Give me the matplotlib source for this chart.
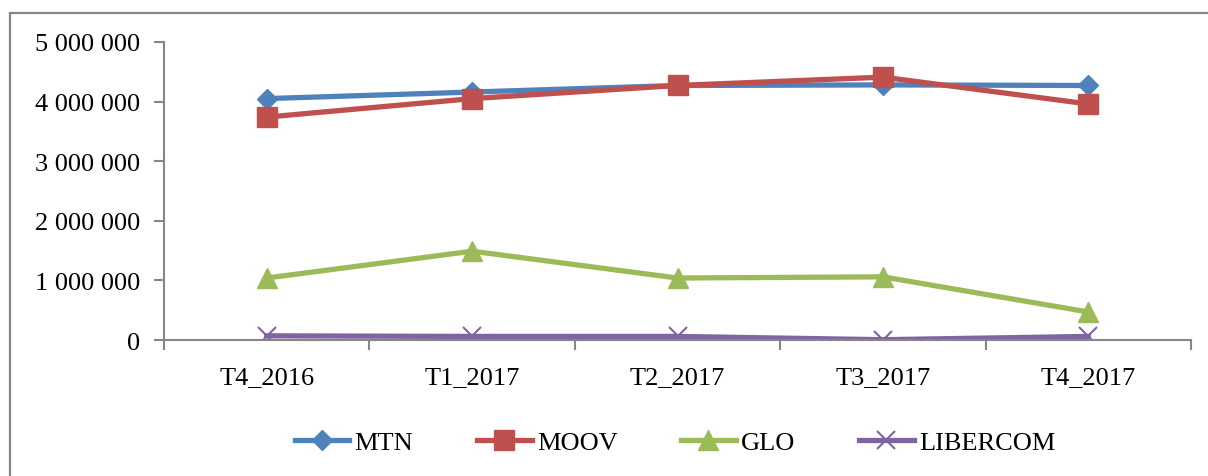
import matplotlib.pyplot as plt
from matplotlib.patches import Rectangle
from matplotlib.ticker import FuncFormatter

periods = ['T4_2016', 'T1_2017', 'T2_2017', 'T3_2017', 'T4_2017']
mtn = [4050000, 4160000, 4270000, 4280000, 4270000]
moov = [3740000, 4050000, 4270000, 4410000, 3960000]
glo = [1040000, 1490000, 1040000, 1060000, 470000]
libercom = [70000, 60000, 60000, 5000, 60000]

plt.rcParams['font.family'] = ['Liberation Serif', 'DejaVu Serif']
grey = '#868686'
fs = 19

fig = plt.figure(figsize=(12.08, 4.77), dpi=100)
ax = fig.add_axes([0.1358, 0.2851, 0.8501, 0.6248])

# outer chart border (runs off the right and bottom edges)
fig.patches.append(Rectangle((10 / 1208, -0.05), 1.2, 1 - 14 / 477 + 0.05,
                             transform=fig.transFigure, fill=False,
                             edgecolor=grey, linewidth=1.6))

x = range(len(periods))
ax.plot(x, mtn, color='#4F81BD', lw=3.8, marker='D', ms=10, label='MTN')
ax.plot(x, moov, color='#C0504D', lw=3.8, marker='s', ms=14, label='MOOV')
ax.plot(x, glo, color='#9BBB59', lw=3.8, marker='^', ms=14, label='GLO')
ax.plot(x, libercom, color='#8064A2', lw=3.8, marker='x', ms=13, mew=1.5,
        label='LIBERCOM')

ax.set_xlim(-0.5, len(periods) - 0.5)
ax.set_ylim(0, 5000000)
ax.set_yticks(range(0, 5000001, 1000000))
ax.yaxis.set_major_formatter(FuncFormatter(lambda v, p: f'{int(v):,}'.replace(',', ' ')))
ax.set_xticks(list(x))
ax.set_xticklabels(periods)
ax.set_xticks([i - 0.5 for i in range(len(periods) + 1)], minor=True)

for s in ['top', 'right']:
    ax.spines[s].set_visible(False)
for s in ['left', 'bottom']:
    ax.spines[s].set_color(grey)
    ax.spines[s].set_linewidth(1.5)

ax.tick_params(axis='y', length=7, color=grey, width=1.5, labelsize=fs, pad=10)
ax.tick_params(axis='x', which='major', length=0, labelsize=fs, pad=19)
ax.tick_params(axis='x', which='minor', length=7, color=grey, width=1.5)

fig.legend(loc='center', bbox_to_anchor=(675 / 1208, 1 - 443 / 477), ncol=4,
           frameon=False, fontsize=fs, handlelength=2.08, handletextpad=0.2,
           columnspacing=2.4)

fig.savefig('out.png', dpi=100)
